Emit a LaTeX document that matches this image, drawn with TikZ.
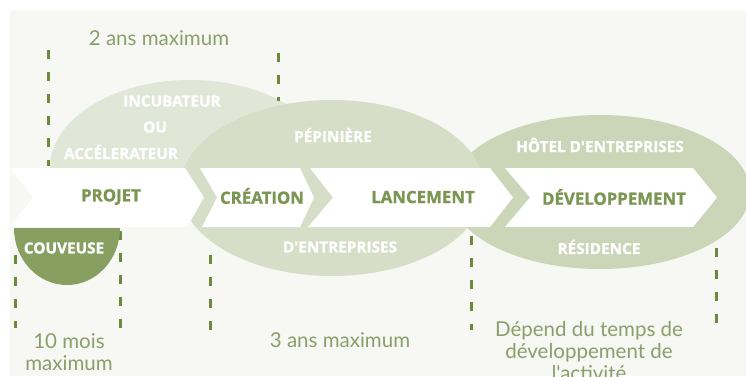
\documentclass[tikz,border=0pt]{standalone}
\usepackage{fontspec}
\newfontfamily\labelfont{Open Sans}[BoldFeatures={FakeBold=1.2}]
\newfontfamily\notefont{Lato}
\definecolor{bgc}{HTML}{F7F7F3}
\definecolor{incc}{HTML}{E1E7D7}
\definecolor{pepc}{HTML}{D6DEC7}
\definecolor{hotc}{HTML}{CBD5B7}
\definecolor{couc}{HTML}{87A062}
\definecolor{lblc}{HTML}{7B9652}
\definecolor{notec}{HTML}{8A9F6B}
\definecolor{dashc}{HTML}{6D893B}
\tikzset{
  stagelbl/.style={font=\labelfont\bfseries\fontsize{16.8}{18}\selectfont, text=lblc, inner sep=0pt},
  whitelbl/.style={font=\labelfont\bfseries\fontsize{15.3}{17}\selectfont, text=white, inner sep=0pt},
  notelbl/.style={font=\notefont\fontsize{20.5}{22}\selectfont, text=notec, inner sep=0pt, align=center},
  dashline/.style={draw=dashc, line width=3pt, dash pattern=on 9pt off 13pt},
  chevron/.style={fill=white, draw=none}
}
\begin{document}
\begin{tikzpicture}[x=1pt,y=-1pt]
\useasboundingbox (0,0) rectangle (746,376);
% background
\fill[bgc] (10,10) rectangle (746,376);
% incubateur (upper half)
\begin{scope}
\clip (0,0) rectangle (746,168);
\fill[incc] (190,168) ellipse [x radius=140pt, y radius=88pt];
\end{scope}
% hotel d'entreprises
\fill[hotc] (600,192) ellipse [x radius=150pt, y radius=77pt];
% pepiniere
\fill[pepc] (332,188) ellipse [x radius=152pt, y radius=88pt];
% band of chevrons
\fill[chevron] (10,168) -- (185,168) -- (204,197.5) -- (187,227) -- (10,227) -- (33,197.5) -- cycle;
\fill[chevron] (200,168) -- (300,168) -- (314,197.5) -- (300,227) -- (202,227) -- (217,197.5) -- cycle;
\fill[chevron] (310,168) -- (490,168) -- (513,197.5) -- (490,227) -- (308,227) -- (333,197.5) -- cycle;
\fill[chevron] (505,168) -- (693,168) -- (717,197.5) -- (693,227) -- (505,227) -- (530,197.5) -- cycle;
% dashed markers
\draw[dashline] (48,50) -- (48,166);
\draw[dashline] (278,53) -- (278,101);
\draw[dashline] (15,255) -- (15,328);
\draw[dashline] (120,231) -- (120,328);
\draw[dashline] (210,255) -- (210,330);
\draw[dashline] (471,236) -- (471,330);
\draw[dashline] (716,248) -- (716,326);
% couveuse (lower half)
\begin{scope}
\clip (0,228) rectangle (746,376);
\fill[couc] (67,228) ellipse [x radius=53pt, y radius=57pt];
\end{scope}
% labels
\node[whitelbl] (inc1) at (172,101) {INCUBATEUR};
\node[whitelbl] (inc2) at (155,127) {OU};
\node[whitelbl] (inc3) at (121,152) {ACCÉLERATEUR};
\node[whitelbl] (pep1) at (333,135) {PÉPINIÈRE};
\node[whitelbl] (pep2) at (340,247) {D'ENTREPRISES};
\node[whitelbl] (hot1) at (600,145) {HÔTEL D'ENTREPRISES};
\node[whitelbl] (hot2) at (599,247) {RÉSIDENCE};
\node[whitelbl] (cou) at (64,248) {COUVEUSE};
\node[stagelbl] (projet) at (111,197) {PROJET};
\node[stagelbl] (creation) at (262,196) {CRÉATION};
\node[stagelbl] (lancement) at (423,197) {LANCEMENT};
\node[stagelbl] (devel) at (614,197) {DÉVELOPPEMENT};
\node[notelbl] (n2ans) at (159,38) {2 ans maximum};
\node[notelbl] (n10mois) at (69,352) {10 mois\\maximum};
\node[notelbl] (n3ans) at (340,340) {3 ans maximum};
\node[notelbl, anchor=north] (ndep) at (589,321) {Dépend du temps de\\développement de\\l'activité};
\end{tikzpicture}
\end{document}
